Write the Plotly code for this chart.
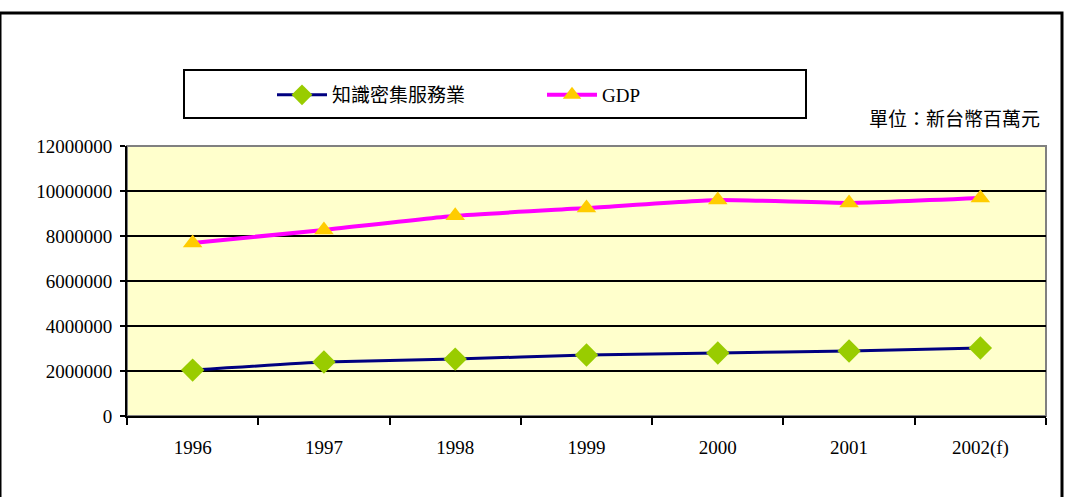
import plotly.graph_objects as go

years = ["1996", "1997", "1998", "1999", "2000", "2001", "2002(f)"]
kis = [2040000, 2400000, 2530000, 2710000, 2800000, 2890000, 3020000]
gdp = [7690000, 8270000, 8900000, 9240000, 9600000, 9470000, 9690000]
yticks = [0, 2000000, 4000000, 6000000, 8000000, 10000000, 12000000]

SERIF = "Liberation Serif"

fig = go.Figure()
fig.add_trace(go.Scatter(
    x=years, y=kis, name="知識密集服務業", mode="lines+markers",
    line=dict(color="#000080", width=3, shape="spline", smoothing=0.4),
    marker=dict(symbol="diamond", size=18, color="#99CC00")))
fig.add_trace(go.Scatter(
    x=years, y=gdp, name="GDP", mode="lines+markers",
    line=dict(color="#FF00FF", width=4, shape="spline", smoothing=0.4),
    marker=dict(symbol="triangle-up", size=17, color="#FFCC00")))

fig.update_layout(
    width=1065, height=497,
    margin=dict(l=127, r=19, t=146, b=81),
    paper_bgcolor="white", plot_bgcolor="#FFFFCC",
    showlegend=True,
    legend=dict(orientation="h", x=272 / 1065, y=1 - 95 / 497, xref="container", yref="container",
                xanchor="left", yanchor="middle",
                font=dict(family="Liberation Serif, Noto Sans CJK TC", size=19, color="black"),
                bgcolor="rgba(0,0,0,0)", entrywidth=205, itemwidth=50),
    font=dict(family=SERIF, size=19, color="black"),
)
fig.update_xaxes(
    type="category", range=[-0.5, 6.5], tickson="boundaries",
    ticks="outside", ticklen=7, tickwidth=2, tickcolor="black",
    showline=True, linecolor="black", linewidth=2, showgrid=False,
    ticklabelstandoff=13, tickfont=dict(family=SERIF, size=19, color="black"))
fig.update_yaxes(
    range=[0, 12000000], tickvals=yticks, ticktext=[str(v) for v in yticks],
    ticks="outside", ticklen=5, tickwidth=2, tickcolor="black",
    showline=True, linecolor="black", linewidth=2,
    showgrid=True, gridcolor="black", gridwidth=1.5, zeroline=False,
    ticklabelstandoff=4, tickfont=dict(family=SERIF, size=19, color="black"))

# plot-area frame (top/right gray)
fig.add_shape(type="rect", xref="x domain", yref="y domain", x0=0, x1=1, y0=0, y1=1,
              line=dict(color="#808080", width=2), layer="below")
# outer figure border
fig.add_shape(type="rect", xref="paper", yref="paper",
              x0=-127/919, x1=1+16/919, y0=-0.5, y1=1+(146-13)/270,
              line=dict(color="black", width=3))
# legend box
fig.add_shape(type="rect", xref="paper", yref="paper",
              x0=(184-127)/919, x1=(806-127)/919, y0=(416-118)/270, y1=(416-70)/270,
              line=dict(color="black", width=2))
fig.add_annotation(text="單位：新台幣百萬元", xref="paper", yref="paper",
                   x=(1042-127)/919, y=(416-117)/270, xanchor="right", yanchor="middle",
                   showarrow=False,
                   font=dict(family="Noto Sans CJK TC", size=19, color="black"))

fig.write_html("out.html")
